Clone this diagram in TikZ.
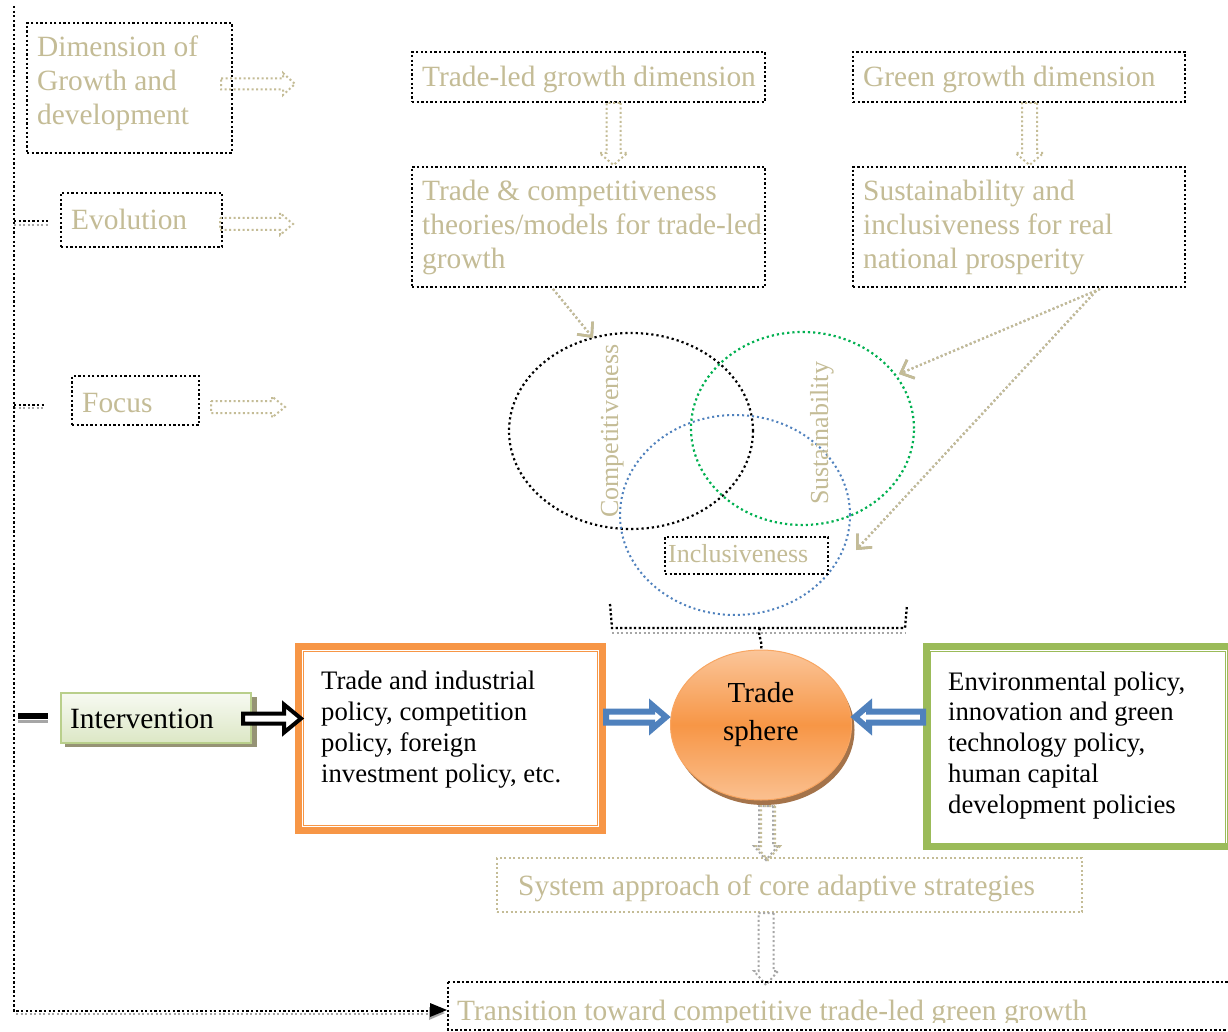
\documentclass[tikz,border=0pt]{standalone}
\usepackage{fontspec}
\setmainfont{Liberation Serif}
\usetikzlibrary{calc,arrows.meta,shapes.geometric}

\definecolor{tanc}{HTML}{C4BC96}
\definecolor{orng}{HTML}{F79646}
\definecolor{grnc}{HTML}{9BBB59}
\definecolor{bluc}{HTML}{4F81BD}
\definecolor{vgrn}{HTML}{00B050}
\definecolor{shgray}{HTML}{A6A6A6}

% outline block arrow: style, from, to, shaft half-width, head half-width, head length
\newcommand\hollowarrow[6]{%
  \coordinate (ha-s) at (#2);
  \coordinate (ha-t) at (#3);
  \coordinate (ha-h) at ($(ha-t)!#6!(ha-s)$);
  \draw[#1] ($(ha-s)!#4!90:(ha-t)$) -- ($(ha-h)!#4!90:(ha-t)$) -- ($(ha-h)!#5!90:(ha-t)$)
    -- (ha-t) -- ($(ha-h)!#5!-90:(ha-t)$) -- ($(ha-h)!#4!-90:(ha-t)$) -- ($(ha-s)!#4!-90:(ha-t)$) -- cycle;}

\begin{document}
\begin{tikzpicture}[x=1pt,y=-1pt,
  dotbox/.style={draw=black, line width=2.3pt, dash pattern=on 2.3pt off 2.3pt, inner sep=0pt},
  blackdots/.style={draw=black, line width=2.3pt, dash pattern=on 2.3pt off 2.3pt},
  tandots/.style={draw=tanc, line width=2pt, dash pattern=on 2pt off 2.5pt},
  graydots/.style={draw=shgray, line width=2pt, dash pattern=on 2pt off 2.5pt},
  tantext/.style={text=tanc, font=\fontsize{29.4}{34}\selectfont, inner sep=0pt, align=left},
  smalltan/.style={text=tanc, font=\fontsize{26}{31}\selectfont, inner sep=0pt},
  blacktext/.style={text=black, font=\fontsize{26.7}{30.7}\selectfont, inner sep=0pt, align=left},
  diag/.style={tandots, line width=2.2pt, -{Straight Barb[length=11pt,width=20pt,line width=2.6pt]}},
  diagsh/.style={graydots, line width=2.2pt, -{Straight Barb[length=11pt,width=20pt,line width=2.6pt]}},
]
\fill[white] (0,0) rectangle (1228,1032);
\useasboundingbox (0,0) rectangle (1228,1032);

% ---------- left column ----------
% (a multi-line node's base anchor sits on its last line)
\node[dotbox, minimum width=205pt, minimum height=130pt] (dim) at (129.5,88) {};
\node[tantext, anchor=base west] (dimt) at (37,125) {Dimension of\\Growth and\\development};
\node[dotbox, minimum width=161pt, minimum height=54pt] (evo) at (141.5,220) {};
\node[tantext, anchor=base west] (evot) at (71,230) {Evolution};
\node[dotbox, minimum width=127pt, minimum height=49pt] (foc) at (135.5,400.5) {};
\node[tantext, anchor=base west] (foct) at (82,412) {Focus};

\hollowarrow{tandots}{221,84}{295,84}{5.5pt}{11pt}{12pt}
\hollowarrow{tandots}{220,224}{293,224}{6pt}{11pt}{13pt}
\hollowarrow{tandots}{211,407}{285,407}{6pt}{10.5pt}{13pt}

% spine with branches
\coordinate (spinetop) at (14,6);
\coordinate (spinecorner) at (14,1011);
\draw[graydots] (14,225) -- (48,225);
\draw[blackdots] (14,221) -- (48,221);
\draw[graydots] (14,408) -- (44,408);
\draw[blackdots] (14,405) -- (44,405);
\draw[graydots] (16,1014) -- (430,1014);
\draw[blackdots] (spinetop) -- (spinecorner) -- (430,1011);

% ---------- top right boxes ----------
\node[dotbox, minimum width=353pt, minimum height=50pt] (tled) at (588.5,77) {};
\node[tantext, anchor=base west] (tledt) at (422,87) {Trade-led growth dimension};
\node[dotbox, minimum width=353pt, minimum height=120pt] (tcomp) at (588.5,227) {};
\node[tantext, anchor=base west] (tcompt) at (422,269) {Trade \& competitiveness\\theories/models for trade-led\\growth};
\node[dotbox, minimum width=332pt, minimum height=50pt] (ggd) at (1019,77) {};
\node[tantext, anchor=base west] (ggdt) at (863,87) {Green growth dimension};
\node[dotbox, minimum width=332pt, minimum height=120pt] (sust) at (1019,227) {};
\node[tantext, anchor=base west] (sustt) at (863,269) {Sustainability and\\inclusiveness for real\\national prosperity};

\hollowarrow{tandots}{613.5,103}{613.5,165}{7pt}{14pt}{12pt}
\hollowarrow{tandots}{1029.5,103}{1029.5,165}{7.5pt}{14pt}{12pt}

% ---------- three pillars ----------
\draw[black, line width=2.2pt, dash pattern=on 2.2pt off 3pt] (631,431) ellipse [x radius=122pt, y radius=98pt];
\draw[vgrn, line width=2.2pt, dash pattern=on 2.2pt off 3pt] (802.5,428.5) ellipse [x radius=111.5pt, y radius=96.5pt];
\draw[bluc, line width=2pt, dash pattern=on 2pt off 3pt] (735,515) ellipse [x radius=115pt, y radius=100pt];

\node[smalltan, rotate=90, anchor=base west] (compt) at (618,518) {Competitiveness};
\node[smalltan, rotate=90, anchor=base west] (sustl) at (828,505) {Sustainability};
\node[dotbox, minimum width=163pt, minimum height=37pt] (incl) at (746.5,555.5) {};
\node[smalltan, anchor=base west] (inclt) at (668,562) {Inclusiveness};

% connectors into the pillars
\coordinate (d1s) at (553,289);
\coordinate (d1e) at (593,338);
\coordinate (d2s) at (1100,289);
\coordinate (d2e) at (899,374);
\coordinate (d3s) at (1096,291);
\coordinate (d3e) at (856,550);
\begin{scope}[shift={(-2,3)}]
  \draw[diagsh] (d1s) -- (d1e);
  \draw[diagsh] (d2s) -- (d2e);
  \draw[diagsh] (d3s) -- (d3e);
\end{scope}
\draw[diag] (d1s) -- (d1e);
\draw[diag] (d2s) -- (d2e);
\draw[diag] (d3s) -- (d3e);

% bracket gathering the pillars
\draw[graydots] (612,633) -- (905,633);
\draw[blackdots] (610,604) -- (612,628) -- (905,628) -- (907,605);

% ---------- intervention row ----------
\node[ellipse, minimum width=181pt, minimum height=150pt, inner sep=0pt] (sphshadow) at (764,730) {};
\fill[orng!60!black!85] (sphshadow.center) ellipse [x radius=90.5pt, y radius=75pt];
\node[ellipse, minimum width=181pt, minimum height=150pt, inner sep=0pt, draw=orng!85!white, line width=1pt,
  top color=orng!55!white, bottom color=orng!60!white, middle color=orng] (sph) at (761,725) {};
\node[text=black, font=\fontsize{29}{38}\selectfont, align=center, inner sep=0pt, anchor=base] (spht) at (761,740) {Trade\\sphere};
\draw[blackdots] (760,628) .. controls (757,636) and (763,640) .. (sph.north);

\node[draw=orng, line width=7pt, minimum width=304pt, minimum height=184pt] (obox) at (450.5,738.5) {};
\draw[orng, line width=1.8pt] ($(obox.north west)+(8.5,8.5)$) rectangle ($(obox.south east)+(-8.5,-8.5)$);
\node[blacktext, anchor=base west] (oboxt) at (321,782) {Trade and industrial\\policy, competition\\policy, foreign\\investment policy, etc.};

\node[draw=grnc, line width=7pt, minimum width=304pt, minimum height=200pt] (gbox) at (1078.5,746.5) {};
\draw[grnc, line width=1.8pt] ($(gbox.north west)+(7.5,8.5)$) rectangle ($(gbox.south east)+(-8.5,-5.5)$);
\node[blacktext, anchor=base west] (gboxt) at (948,813) {Environmental policy,\\innovation and green\\technology policy,\\human capital\\development policies};

% intervention label
\fill[black!40!olive!45!gray!80] (65,697) rectangle (257,747);
\node[draw=grnc!70!white, line width=1.5pt, top color=grnc!8!white, bottom color=grnc!35!white,
  minimum width=190pt, minimum height=50pt, inner sep=0pt] (intv) at (156,718) {};
\node[text=black, font=\fontsize{29.4}{34}\selectfont, inner sep=0pt, anchor=base west] (intvt) at (70,728) {Intervention};
\draw[shgray, line width=3pt] (18,721) -- (48,721);
\draw[black, line width=5.5pt] (18,716) -- (48,716);

\hollowarrow{draw=black, line width=4pt, fill=white, line join=miter}{243,718.5}{301,718.5}{5pt}{14pt}{17pt}
\hollowarrow{draw=bluc, line width=6pt, fill=white, line join=miter}{obox.east |- 0,717}{666,717}{5.5pt}{12pt}{14pt}
\hollowarrow{draw=bluc, line width=6pt, fill=white, line join=miter}{gbox.west |- 0,717}{855,717}{5.5pt}{12pt}{14pt}

% ---------- lower chain ----------
\node[draw=tanc, line width=2pt, dash pattern=on 2pt off 2.5pt, minimum width=585pt, minimum height=54pt] (sys) at (789.5,885) {};
\node[tantext, anchor=base west] (syst) at (518,895) {System approach of core adaptive strategies};

\begin{scope}[shift={(-1,0)}]
\hollowarrow{graydots}{767,806}{767,860}{7pt}{12pt}{14pt}
\end{scope}
\hollowarrow{tandots}{768,806}{768,860}{7pt}{12pt}{14pt}
\hollowarrow{graydots}{766,913}{766,985}{7.5pt}{12pt}{14pt}

\draw[blackdots] (448,982) -- (1240,982);
\draw[blackdots] (448,982) -- (448,1030) -- (1240,1030);
\begin{scope}
  \clip (450,975) rectangle (1228,1022);
  \node[tantext, anchor=base west] (transt) at (457,1020) {Transition toward competitive trade-led green growth};
\end{scope}

% arrowhead on the spine
\fill[shgray] (429,1007) -- (445,1013) -- (429,1020) -- cycle;
\fill[black] (430,1003) -- (447,1010) -- (430,1017) -- cycle;
\end{tikzpicture}
\end{document}
